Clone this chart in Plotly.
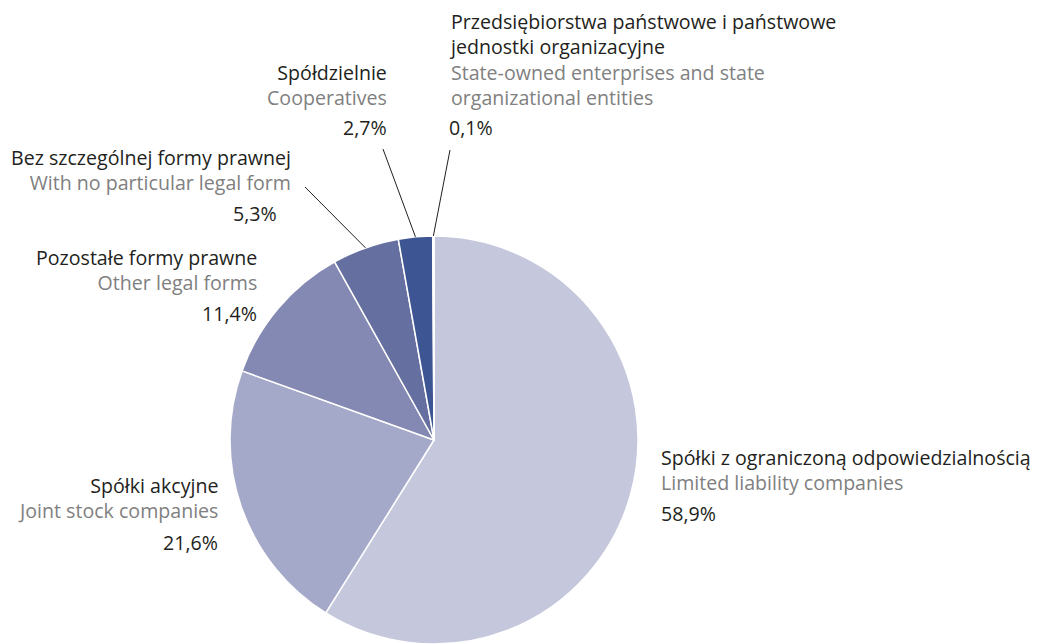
import numpy as np
import plotly.graph_objects as go

W, H = 1038, 644

labels_pl = ["Spółki z ograniczoną odpowiedzialnością", "Spółki akcyjne", "Pozostałe formy prawne",
             "Bez szczególnej formy prawnej", "Spółdzielnie",
             "Przedsiębiorstwa państwowe i państwowe|jednostki organizacyjne"]
labels_en = ["Limited liability companies", "Joint stock companies", "Other legal forms",
             "With no particular legal form", "Cooperatives",
             "State-owned enterprises and state|organizational entities"]
values = [58.9, 21.6, 11.4, 5.3, 2.7, 0.1]
pct_text = ["58,9%", "21,6%", "11,4%", "5,3%", "2,7%", "0,1%"]
colors = ["#c5c7dc", "#a5a9c9", "#8489b3", "#6670a0", "#3d5592", "#2c3f7c"]

# pie geometry in pixels
cx, cy, r = 434, 440, 204

fig = go.Figure(go.Pie(
    values=values, labels=[l.replace("|", " ") for l in labels_pl],
    sort=False, direction="clockwise", rotation=0,
    marker=dict(colors=colors, line=dict(color="white", width=1.5)),
    textinfo="none", hoverinfo="label+value", showlegend=False,
    domain=dict(x=[(cx - r) / W, (cx + r) / W], y=[max(0, (H - cy - r) / H), (H - cy + r) / H]),
))

def px(x):
    return x / W

def py(y):
    return 1 - y / H

FONT = "Open Sans"
BLACK = "#231f20"
GRAY = "#808080"
SIZE = 19.6

# label layout: anchor, x, y of first line, y of last line, y pct, x pct
layout_pos = [
    ("left", 660, 458, 482, 513, 660),
    ("right", 219, 485, 511, 542, 219),
    ("right", 258, 258, 282, 313, 258),
    ("right", 292, 157, 182, 213, 278),
    ("right", 388, 73, 97, 128, 388),
    ("left", 448, 22, 97, 128, 448),
]

annotations = []

def add(x, y, text, anc, color):
    annotations.append(dict(x=px(x), y=py(y), xref="paper", yref="paper", text=text,
                            showarrow=False, xanchor=anc, yanchor="middle", align=anc,
                            borderpad=0,
                            font=dict(family=FONT, size=SIZE, color=color)))

for i, (anc, x, y0, y1, yp, xp) in enumerate(layout_pos):
    pl = labels_pl[i].split("|")
    en = [f'<span style="color:{GRAY}">{t}</span>' for t in labels_en[i].split("|")]
    add(x, (y0 + y1) / 2, "<br>".join(pl + en), anc, BLACK)
    add(xp, yp, pct_text[i], anc, BLACK)

# leader lines for small slices, inner point from slice mid-angle
vals = np.array(values)
mid = (np.cumsum(vals) - vals / 2) / vals.sum() * 2 * np.pi
outer = {3: (305, 187), 4: (383, 149), 5: (450, 150)}
shapes = []
for i, (ox, oy) in outer.items():
    ix = cx + r * np.sin(mid[i])
    iy = cy - r * np.cos(mid[i])
    shapes.append(dict(type="line", xref="paper", yref="paper",
                       x0=px(ox), y0=py(oy), x1=px(ix), y1=py(iy),
                       line=dict(color="#231f20", width=1)))

fig.update_layout(width=W, height=H, margin=dict(l=0, r=0, t=0, b=0),
                  paper_bgcolor="white", plot_bgcolor="white",
                  annotations=annotations, shapes=shapes)
fig.write_html("out.html", config={"displayModeBar": False})

with open("out.html", encoding="utf-8") as f:
    html = f.read()
html = html.replace("<body>", '<body style="margin:0;overflow:hidden">', 1)
with open("out.html", "w", encoding="utf-8") as f:
    f.write(html)
